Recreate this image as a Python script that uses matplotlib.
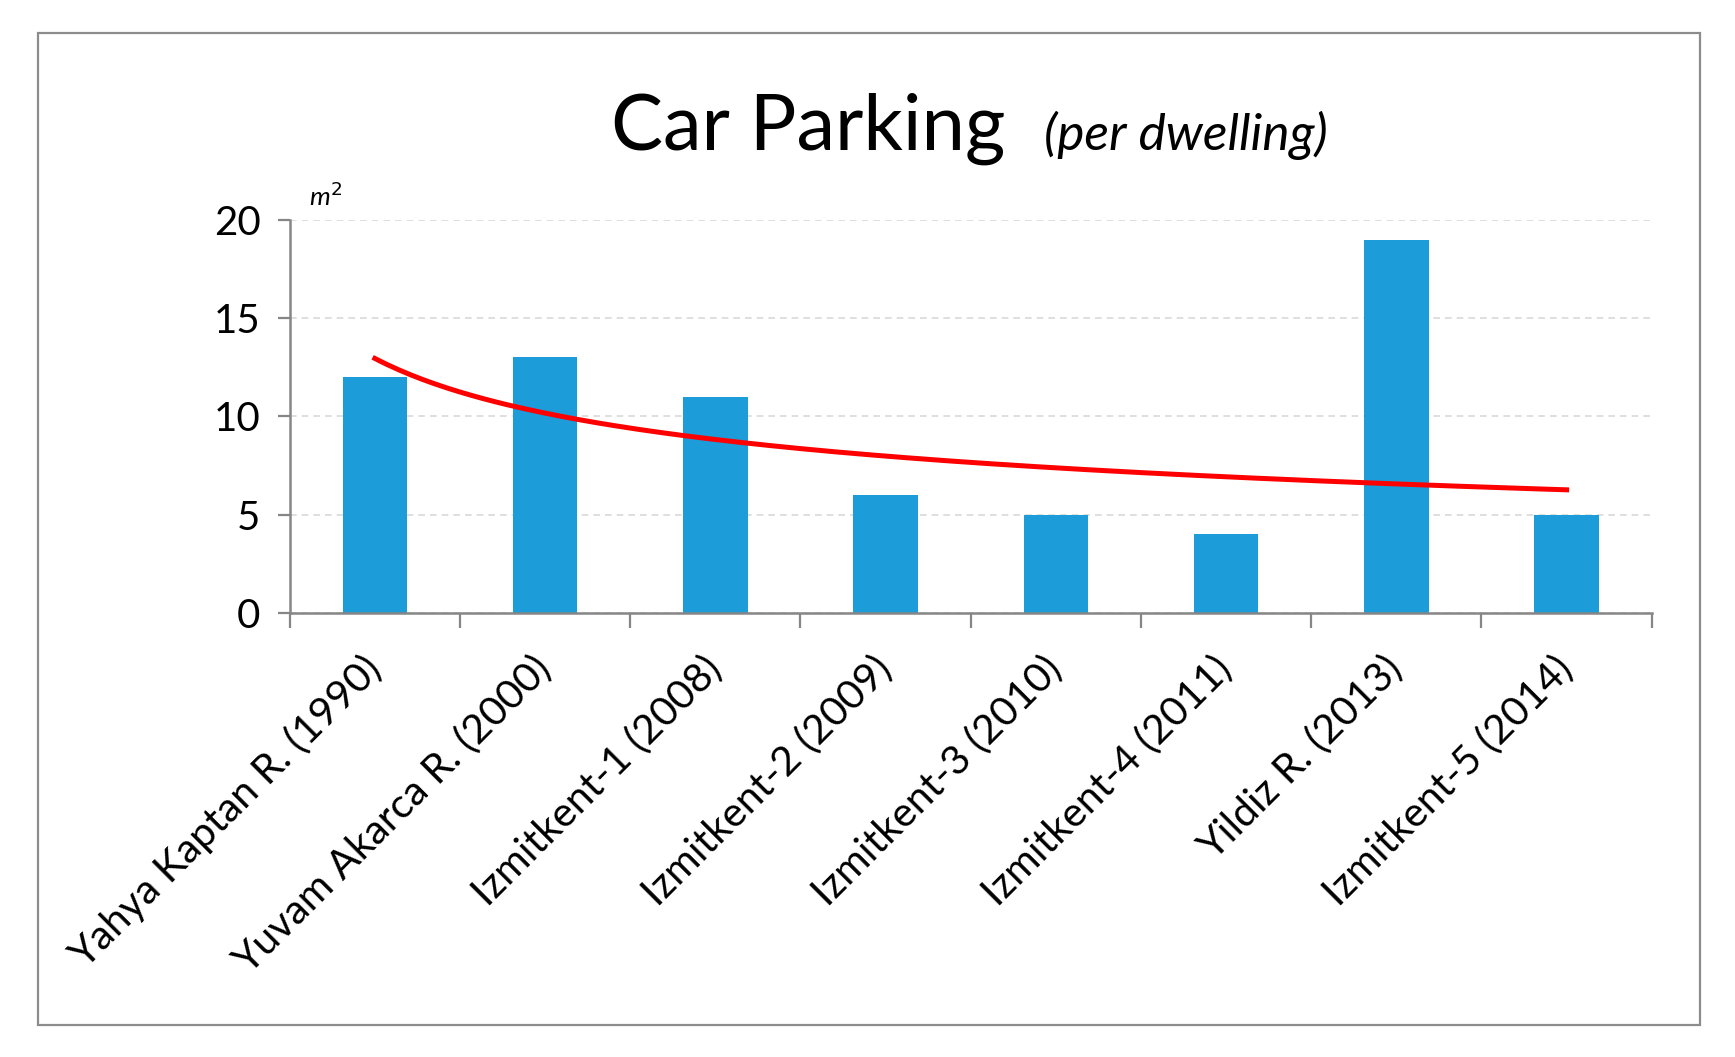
import matplotlib
matplotlib.use("Agg")
import matplotlib.pyplot as plt
from matplotlib.patches import Rectangle
import numpy as np

plt.rcParams['font.family'] = ['Lato', 'DejaVu Sans']

names = ["Yahya Kaptan R. (1990)", "Yuvam Akarca R. (2000)", "Izmitkent-1 (2008)",
         "Izmitkent-2 (2009)", "Izmitkent-3 (2010)", "Izmitkent-4 (2011)",
         "Yildiz R. (2013)", "Izmitkent-5 (2014)"]
parking = [12, 13, 11, 6, 5, 4, 19, 5]
yticks = [0, 5, 10, 15, 20]

bar_color = "#1c9cd8"
axis_color = "#868686"

fig = plt.figure(figsize=(17.35, 10.57), dpi=100)
ax = fig.add_axes([0.167, 0.42, 0.785, 0.372])

x = np.arange(1, len(parking) + 1)
ax.bar(x, parking, width=0.38, color=bar_color, zorder=2)

# power trendline like excel: y = c * x^b
b, lnc = np.polyfit(np.log(x), np.log(parking), 1)
xt = np.linspace(1, len(parking), 200)
ax.plot(xt, np.exp(lnc) * xt ** b, color="#ff0000", linewidth=3.6, zorder=3)

ax.set_xlim(0.5, len(parking) + 0.5)
ax.set_ylim(0, 20)
ax.set_yticks(yticks)
ax.set_yticklabels([str(v) for v in yticks], fontsize=29)
ax.yaxis.grid(True, color="#d9d9d9", linestyle=(0, (4, 3)), linewidth=1.2, zorder=0)

# category boundary ticks on x axis
ax.set_xticks(np.arange(0.5, len(parking) + 1.0, 1.0))
ax.set_xticklabels([])
ax.set_xticks(x, minor=True)
ax.set_xticklabels(names, minor=True, rotation=45, ha="right", va="center",
                   rotation_mode="anchor", fontsize=29.5)
ax.tick_params(axis="x", which="minor", length=0, pad=36)
ax.tick_params(axis="x", which="major", length=11, width=1.6, color=axis_color)
ax.tick_params(axis="y", length=9, width=1.6, color=axis_color, pad=12)

for s in ["top", "right"]:
    ax.spines[s].set_visible(False)
for s in ["left", "bottom"]:
    ax.spines[s].set_color(axis_color)
    ax.spines[s].set_linewidth(1.8)

ax.text(0.014, 1.025, "m$^2$", transform=ax.transAxes, fontsize=19,
        style="italic", ha="left", va="bottom")

fig.text(0.352, 0.878, "Car Parking", fontsize=56, ha="left", va="center")
fig.text(0.602, 0.872, "(per dwelling)", fontsize=37, style="italic",
         ha="left", va="center")

fig.patches.append(Rectangle((0.022, 0.03), 0.958, 0.939, transform=fig.transFigure,
                             fill=False, edgecolor="#8c8c8c", linewidth=1.6))

fig.savefig("out.png", dpi=100)
